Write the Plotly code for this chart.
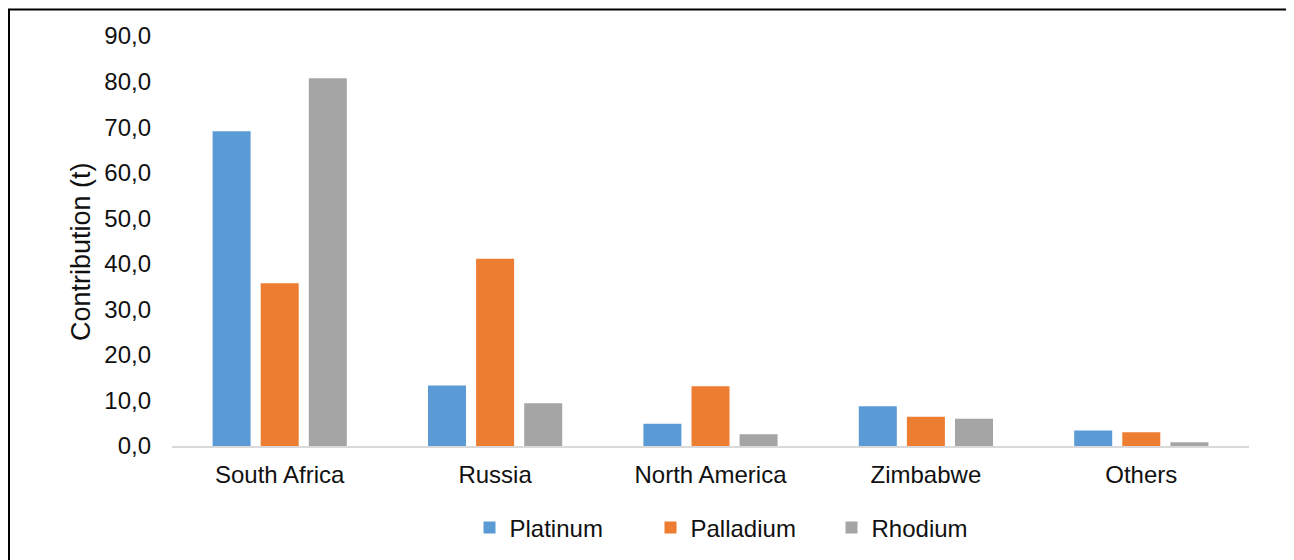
import plotly.graph_objects as go

categories = ["South Africa", "Russia", "North America", "Zimbabwe", "Others"]
platinum = [69.1, 13.3, 4.9, 8.7, 3.4]
palladium = [35.7, 41.1, 13.1, 6.4, 3.0]
rhodium = [80.7, 9.4, 2.6, 6.0, 0.8]
y_ticks = [0, 10, 20, 30, 40, 50, 60, 70, 80, 90]
y_tick_labels = ["0,0", "10,0", "20,0", "30,0", "40,0", "50,0", "60,0", "70,0", "80,0", "90,0"]

W, H = 1294, 560
OFF = 8  # page body margin
# plot area in page coordinates
PX0, PX1, PY0, PY1 = 172, 1249, 36, 446
L = PX0 - OFF
R = W - (PX1 - OFF)
T = PY0 - OFF
B = H - (PY1 - OFF)
pw = PX1 - PX0
ph = PY1 - PY0


def px(x):
    return (x - PX0) / pw


def py(y):
    return (PY1 - y) / ph


FONT = "Liberation Sans, Arial, sans-serif"
TXT = "#111111"

fig = go.Figure()
for name, vals, col in [("Platinum", platinum, "#5B9BD5"),
                        ("Palladium", palladium, "#ED7D31"),
                        ("Rhodium", rhodium, "#A5A5A5")]:
    fig.add_trace(go.Bar(x=categories, y=vals, name=name,
                         marker=dict(color=col, line=dict(width=0))))

fig.update_layout(
    width=W, height=H,
    margin=dict(l=L, r=R, t=T, b=B, autoexpand=False),
    paper_bgcolor="white", plot_bgcolor="white",
    barmode="group", bargap=0.33, bargroupgap=0.21,
    font=dict(family=FONT, size=24, color=TXT),
    showlegend=True,
    legend=dict(orientation="h", x=px(741), xanchor="center",
                y=py(528), yanchor="middle",
                font=dict(size=24, color=TXT),
                entrywidth=136, entrywidthmode="pixels",
                itemsizing="constant", bgcolor="rgba(0,0,0,0)"),
    xaxis=dict(showline=True, linecolor="#D9D9D9", linewidth=1.5,
               showgrid=False, zeroline=False, ticks="",
               tickfont=dict(size=24, color=TXT), ticklabelstandoff=6),
    yaxis=dict(range=[0, 90], tickvals=y_ticks, ticktext=y_tick_labels,
               showgrid=False, zeroline=False, showline=False, ticks="",
               tickfont=dict(size=24, color=TXT), ticklabelstandoff=20),
    shapes=[dict(type="rect", xref="paper", yref="paper",
                 x0=px(9), x1=px(1289),
                 y0=py(575), y1=py(9.5),
                 line=dict(color="black", width=2), fillcolor="rgba(0,0,0,0)")],
    annotations=[dict(text="Contribution (t)", xref="paper", yref="paper",
                      x=px(81), y=py(252),
                      xanchor="center", yanchor="middle", textangle=-90,
                      showarrow=False, font=dict(size=27, color=TXT))],
)

fig.write_html("out.html")
